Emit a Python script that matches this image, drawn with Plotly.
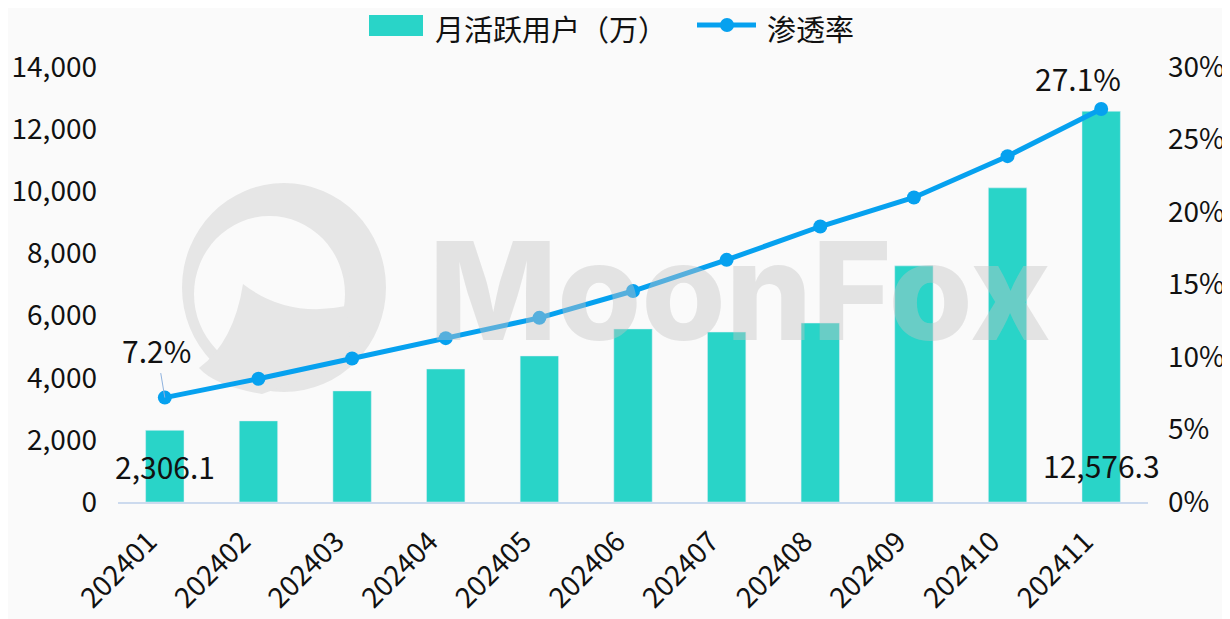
import plotly.graph_objects as go

months = ["202401", "202402", "202403", "202404", "202405", "202406",
          "202407", "202408", "202409", "202410", "202411"]
mau = [2306.1, 2610, 3575, 4280, 4700, 5570, 5470, 5760, 7600, 10110, 12576.3]
penetration = [7.2, 8.5, 9.9, 11.3, 12.7, 14.55, 16.7, 19.0, 21.0, 23.85, 27.1]

BAR = "#29D4C8"
LINE = "#06A1EF"
BG = "#FAFAFA"
FONT = "Noto Sans CJK SC"

# page body has an 8px offset; keep the figure inside the 1230x619 window
OFF = 8
W, H = 1230 - OFF, 619 - OFF
# plot area on screen: x 118..1148, y 67..502
SL, SR, ST, SB = 118, 1148, 67, 502
PW, PH = SR - SL, SB - ST
ML, MT = SL - OFF, ST - OFF
MR, MB = W - ML - PW, H - MT - PH


def px(x):
    return (x - SL) / PW


def py(y):
    return (SB - y) / PH


fig = go.Figure()
fig.add_trace(go.Bar(x=months, y=mau, name="月活跃用户（万）", marker_color=BAR,
                     showlegend=False))
fig.add_trace(go.Scatter(x=months, y=penetration, name="渗透率", yaxis="y2",
                         mode="lines+markers",
                         line=dict(color=LINE, width=5),
                         marker=dict(color=LINE, size=14),
                         showlegend=False))

shapes = []
# watermark logo (approximate)
wm = "#E6E6E6"
shapes.append(dict(type="circle", xref="paper", yref="paper", layer="below",
                   x0=px(182), x1=px(386), y0=py(392), y1=py(183),
                   fillcolor=wm, line=dict(width=0)))
shapes.append(dict(type="circle", xref="paper", yref="paper", layer="below",
                   x0=px(194), x1=px(345), y0=py(372), y1=py(216),
                   fillcolor=BG, line=dict(width=0)))
blob = (f"M {px(243)},{py(284)} Q {px(287)},{py(318)} {px(346)},{py(306)} "
        f"L {px(352)},{py(362)} L {px(262)},{py(394)} "
        f"Q {px(215)},{py(386)} {px(199)},{py(368)} "
        f"Q {px(234)},{py(342)} {px(243)},{py(284)} Z")
shapes.append(dict(type="path", xref="paper", yref="paper", layer="below",
                   path=blob, fillcolor=wm, line=dict(width=0)))

# custom legend
shapes.append(dict(type="rect", xref="paper", yref="paper",
                   x0=px(369), x1=px(423), y0=py(36), y1=py(15),
                   fillcolor=BAR, line=dict(width=0)))
shapes.append(dict(type="line", xref="paper", yref="paper",
                   x0=px(697), x1=px(756), y0=py(25), y1=py(25),
                   line=dict(color=LINE, width=5)))
shapes.append(dict(type="circle", xref="paper", yref="paper",
                   x0=px(720), x1=px(734), y0=py(32), y1=py(18),
                   fillcolor=LINE, line=dict(width=0)))

first, last = 0, len(months) - 1
annotations = [
    dict(text="MoonFox", xref="paper", yref="paper", x=px(740), y=py(290),
         showarrow=False, xanchor="center", yanchor="middle",
         font=dict(family="Inter", size=136, color="rgba(195,195,195,0.42)",
                   weight=800)),
    dict(text="月活跃用户（万）", xref="paper", yref="paper", x=px(434), y=py(28),
         showarrow=False, xanchor="left", yanchor="middle", borderpad=0,
         font=dict(family=FONT, size=29, color="#111")),
    dict(text="渗透率", xref="paper", yref="paper", x=px(766), y=py(28),
         showarrow=False, xanchor="left", yanchor="middle", borderpad=0,
         font=dict(family=FONT, size=29, color="#111")),
    dict(text=f"{penetration[first]:.1f}%", xref="x", yref="y2", x=first,
         y=penetration[first], showarrow=True, arrowhead=0, arrowwidth=1,
         arrowcolor="#8FB2DE", ax=-8, ay=-48,
         font=dict(family=FONT, size=30, color="#111")),
    dict(text=f"{penetration[last]:.1f}%", xref="x", yref="y2", x=last,
         y=penetration[last], showarrow=False, xshift=-23, yshift=31,
         font=dict(family=FONT, size=30, color="#111")),
    dict(text=f"{mau[first]:,.1f}", xref="x", yref="y", x=first, y=0,
         showarrow=False, yanchor="middle", yshift=36,
         font=dict(family=FONT, size=30, color="#111")),
    dict(text=f"{mau[last]:,.1f}", xref="x", yref="y", x=last, y=0,
         showarrow=False, yanchor="middle", yshift=37,
         font=dict(family=FONT, size=30, color="#111")),
]

TICKFONT = dict(family=FONT, size=28, color="#111")
fig.update_layout(
    width=W, height=H,
    margin=dict(l=ML, r=MR, t=MT, b=MB, autoexpand=False),
    paper_bgcolor=BG, plot_bgcolor=BG,
    font=dict(family=FONT, size=28, color="#111"),
    bargap=0.59,
    showlegend=False,
    xaxis=dict(type="category", range=[-0.5, len(months) - 0.5],
               showline=True, linecolor="#CCDAEE", linewidth=2,
               showgrid=False, tickangle=-45, ticks="", automargin=False,
               ticklabelstandoff=10, ticklabelshift=-16,
               tickfont=TICKFONT),
    yaxis=dict(range=[0, 14000], dtick=2000, tickformat=",", showgrid=False,
               zeroline=False, showline=False, ticks="", ticklabelstandoff=20,
               automargin=False, tickfont=TICKFONT),
    yaxis2=dict(range=[0, 30], dtick=5, ticksuffix="%", overlaying="y",
                side="right", showgrid=False, zeroline=False, showline=False,
                ticks="", ticklabelstandoff=19, automargin=False,
                tickfont=TICKFONT),
    shapes=shapes,
    annotations=annotations,
)

fig.write_html("out.html")
